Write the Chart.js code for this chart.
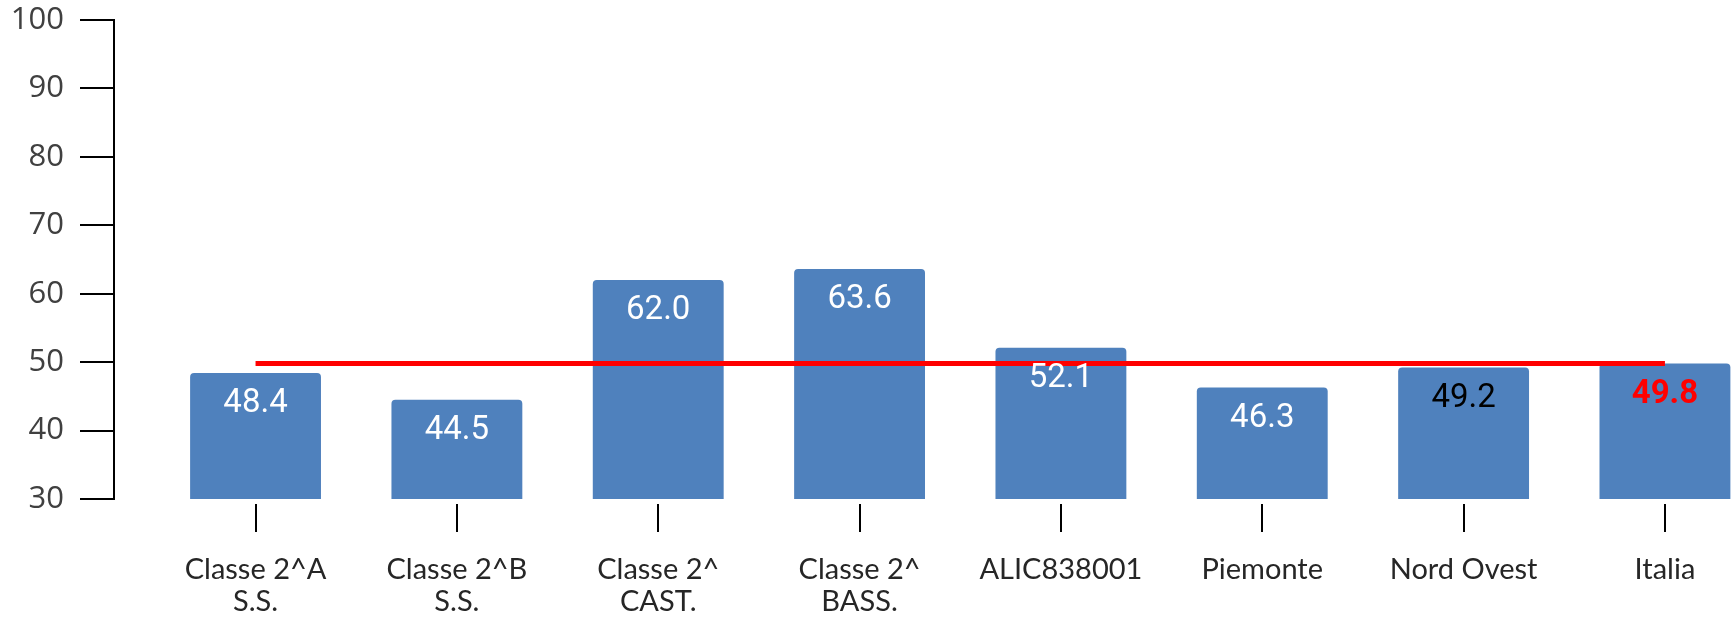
<!DOCTYPE html>
<html lang="it">
<head>
    <meta charset="UTF-8">
    <title>Confronto risultati</title>
    <script src="https://cdn.jsdelivr.net/npm/chart.js"></script>
    <style>
        html, body { margin: 0; padding: 0; background: #fff; }
        #wrap { width: 1734px; height: 620px; }
    </style>
</head>
<body>
    <div id="wrap"><canvas id="chart"></canvas></div>
    <script>
        const categories = [
            ['Classe 2^A', 'S.S.'],
            ['Classe 2^B', 'S.S.'],
            ['Classe 2^', 'CAST.'],
            ['Classe 2^', 'BASS.'],
            'ALIC838001',
            'Piemonte',
            'Nord Ovest',
            'Italia'
        ];
        const values = [48.4, 44.5, 62.0, 63.6, 52.1, 46.3, 49.2, 49.8];
        const reference = [49.8, 49.8, 49.8, 49.8, 49.8, 49.8, 49.8, 49.8];
        const yTicks = [30, 40, 50, 60, 70, 80, 90, 100];

        // label colours, last one (Italia) is bold red
        const labelColors = ['#fff', '#fff', '#fff', '#fff', '#fff', '#fff', '#000', '#ff0000'];

        const barLabels = {
            id: 'barLabels',
            afterDatasetsDraw(chart) {
                const meta = chart.getDatasetMeta(1);
                const ctx = chart.ctx;
                ctx.save();
                ctx.textAlign = 'center';
                ctx.textBaseline = 'middle';
                meta.data.forEach((bar, i) => {
                    const last = i === values.length - 1;
                    ctx.font = (last ? 'bold ' : '') + '33px Roboto';
                    ctx.fillStyle = labelColors[i];
                    ctx.fillText(values[i].toFixed(1), bar.x, bar.y + 31);
                });
                ctx.restore();
            }
        };

        new Chart(document.getElementById('chart'), {
            data: {
                datasets: [{
                    type: 'line',
                    data: reference.map((v, i) => ({ x: i, y: v })),
                    borderColor: '#ff0000',
                    borderWidth: 5,
                    pointRadius: 0,
                    order: 0
                }, {
                    type: 'bar',
                    data: values.map((v, i) => ({ x: i, y: v })),
                    backgroundColor: '#4f81bd',
                    borderRadius: 4,
                    categoryPercentage: 1,
                    barPercentage: 0.65,
                    order: 1
                }]
            },
            options: {
                responsive: true,
                maintainAspectRatio: false,
                animation: false,
                layout: { padding: 0 },
                plugins: { legend: { display: false }, tooltip: { enabled: false } },
                scales: {
                    x: {
                        type: 'linear',
                        min: -0.703,
                        max: 7.343,
                        offset: false,
                        afterBuildTicks: axis => { axis.ticks = categories.map((c, i) => ({ value: i })); },
                        afterFit: axis => { axis.height = 121; },
                        border: { display: false },
                        grid: {
                            offset: false,
                            drawOnChartArea: false,
                            color: '#000',
                            lineWidth: 2,
                            tickLength: 33,
                            tickBorderDash: [0, 5, 28, 100]
                        },
                        ticks: {
                            autoSkip: false,
                            maxRotation: 0,
                            padding: 22,
                            color: '#262626',
                            font: { family: 'Lato', size: 29, lineHeight: 1.1 },
                            callback: v => categories[v]
                        }
                    },
                    y: {
                        min: 30,
                        max: 100,
                        afterBuildTicks: axis => { axis.ticks = yTicks.map(v => ({ value: v })); },
                        afterFit: axis => {
                            axis.width = 114;
                            axis.paddingTop = 20;
                            axis.paddingBottom = 0;
                        },
                        border: { display: true, color: '#000', width: 2 },
                        grid: {
                            drawOnChartArea: false,
                            color: '#000',
                            lineWidth: 2,
                            tickLength: 34
                        },
                        ticks: {
                            padding: 16,
                            color: '#404040',
                            font: { family: 'Open Sans', size: 31 }
                        }
                    }
                }
            },
            plugins: [barLabels]
        });
    </script>
</body>
</html>
